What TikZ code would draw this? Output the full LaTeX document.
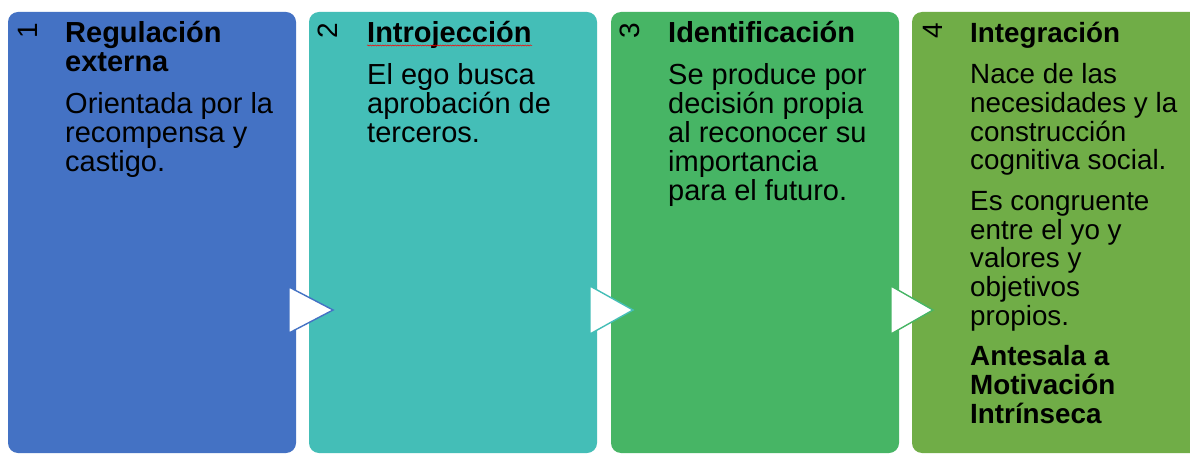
\documentclass[tikz,border=0pt]{standalone}
\usepackage{fontspec}
\setmainfont{Liberation Sans}
\usetikzlibrary{decorations.pathmorphing}
\definecolor{cA}{HTML}{4472C4}
\definecolor{cB}{HTML}{44BEB7}
\definecolor{cC}{HTML}{47B565}
\definecolor{cD}{HTML}{70AD47}
\tikzset{
  stagebox/.style={rounded corners=10pt},
  chev/.style={fill=white, line width=1.4pt, line join=miter},
  num/.style={rotate=90, inner sep=0, font=\fontsize{28}{29}\selectfont},
  txt/.style={anchor=base west, inner sep=0},
}
\newcommand{\stagetxt}[5]{\begin{minipage}[t]{#1}\raggedright\setlength{\parindent}{0pt}\setlength{\parskip}{#4}\fontsize{#2}{#3}\selectfont #5\end{minipage}}
\begin{document}
\begin{tikzpicture}[x=1pt,y=1pt]
\clip (0,0) rectangle (1190,-454);
\fill[white] (0,0) rectangle (1190,-454);
% boxes
\fill[stagebox, cA] (8,-12) rectangle (296,-453);
\fill[stagebox, cB] (309,-12) rectangle (597,-453);
\fill[stagebox, cC] (611,-12) rectangle (899,-453);
\fill[stagebox, cD] (912,-12) rectangle (1205,-453);
% arrows
\draw[chev, draw=cA] (289,-287) -- (333,-310) -- (289,-333) -- cycle;
\draw[chev, draw=cB] (590,-286) -- (633,-310) -- (590,-334) -- cycle;
\draw[chev, draw=cC] (891,-286) -- (933,-310) -- (891,-334) -- cycle;
% numbers
\node[num] (n1) at (28,-31) {1};
\node[num] (n2) at (328,-31) {2};
\node[num] (n3) at (630,-31) {3};
\node[num] (n4) at (933,-31) {4};
% texts
\node[txt] (t1) at (65,-43) {\stagetxt{228pt}{29}{29}{13pt}{\textbf{Regulación\\externa}\par Orientada por la\\recompensa y\\castigo.}};
\node[txt] (t2) at (367,-43) {\stagetxt{228pt}{29}{29}{13pt}{\textbf{Introjección}\par El ego busca\\aprobación de\\terceros.}};
\node[txt] (t3) at (668,-43) {\stagetxt{228pt}{29}{29}{13pt}{\textbf{Identificación}\par Se produce por\\decisión propia\\al reconocer su\\importancia\\para el futuro.}};
\node[txt] (t4) at (970,-43) {\stagetxt{228pt}{27.8}{28.7}{12pt}{\textbf{Integración}\par Nace de las\\necesidades y la\\construcción\\cognitiva social.\par Es congruente\\entre el yo y\\valores y\\objetivos\\propios.\par \textbf{Antesala a\\Motivación\\Intrínseca}}};
% spell-check underline
\coordinate (u1) at (367,-45.5);
\coordinate (u2) at (532,-45.5);
\draw[red, line width=0.5pt, decorate, decoration={snake, amplitude=0.6pt, segment length=2.5pt}] (u1) -- (u2);
\end{tikzpicture}
\end{document}
